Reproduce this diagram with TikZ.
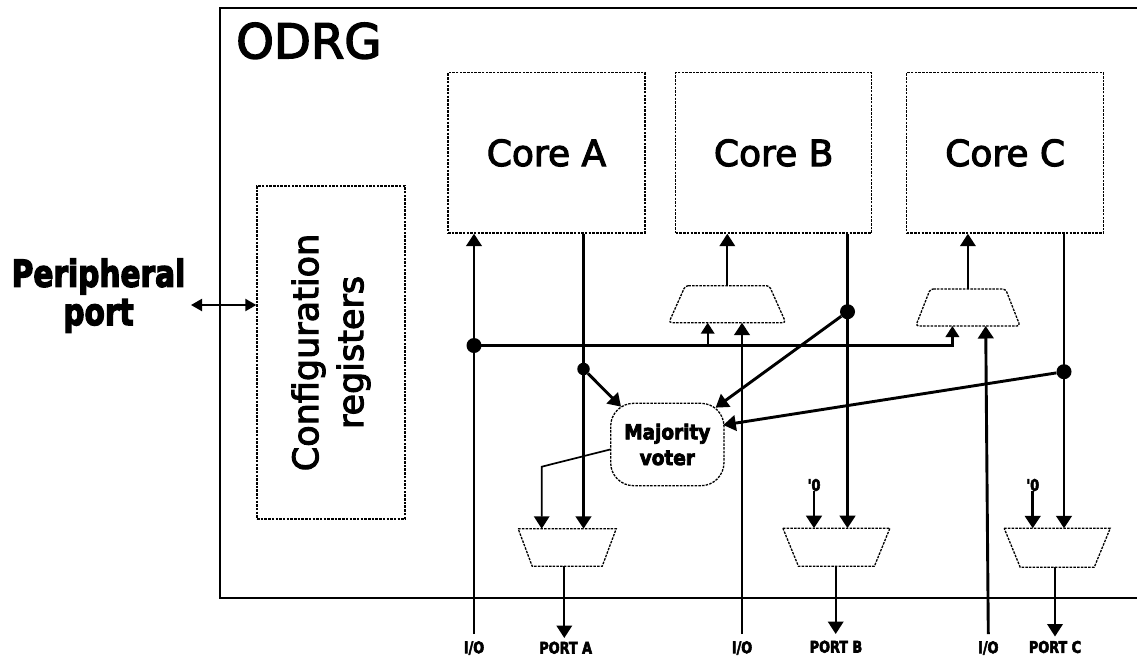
\documentclass[tikz,border=0pt]{standalone}
\usepackage{fontspec}
\usepackage{graphicx}
\setmainfont{DejaVu Sans}[BoldFeatures={FakeBold=4}]
\newfontfamily\labelfont{DejaVu Sans}[FakeBold=3]
\usetikzlibrary{arrows.meta}
\newcommand\pinText[1]{\scalebox{0.8}[1]{#1}}
\newcommand\wideText[1]{\scalebox{0.8}[1]{#1}}
\newcommand\voterText[1]{\scalebox{0.9}[1]{#1}}
\begin{document}
\begin{tikzpicture}[x=1pt,y=-1pt,
  frame/.style={line width=1.7pt},
  dline/.style={line width=1.3pt, dash pattern=on 2.5pt off 1.2pt},
  dbox/.style={draw, dline, inner sep=0pt},
  corebox/.style={dbox, minimum width=197pt, minimum height=160.3pt, font=\labelfont\fontsize{36}{43}\selectfont},
  muxbox/.style={inner sep=0pt, outer sep=0pt},
  wire/.style={line width=2.9pt},
  sig/.style={wire, -{Triangle[length=12.5pt,width=15.5pt]}},
  sigmid/.style={line width=2.2pt, -{Triangle[length=12.5pt,width=15.5pt]}},
  smallsig/.style={line width=2.2pt, -{Triangle[length=11pt,width=13.5pt]}},
  thinsig/.style={line width=1.7pt, -{Triangle[length=12.5pt,width=15.5pt]}},
  dblarrow/.style={line width=2pt, {Triangle[length=11pt,width=12pt]}-{Triangle[length=11pt,width=12pt]}},
  dot/.style={circle, fill, inner sep=0pt, minimum size=15pt},
  pinlabel/.style={font=\bfseries\fontsize{16}{16}\selectfont, inner sep=0pt}
]
\useasboundingbox (0,0) rectangle (1137,657);

% ODRG block, open towards the right border
\draw[frame] (1137,8.3) -- (220,8.3) -- (220,597.7) -- (1137,597.7);
\node[anchor=base west, inner sep=0pt, font=\labelfont\fontsize{48}{56}\selectfont] (odrg) at (236,58.3) {ODRG};

% configuration registers and peripheral port
\node[dbox, minimum width=148pt, minimum height=333pt] (cfg) at (331,352.5) {};
\node[rotate=90, align=center, font=\labelfont\fontsize{35}{45}\selectfont] (cfgtext) at (cfg.center) {Configuration\\registers};
\node[anchor=base, inner sep=0pt, font=\bfseries\fontsize{37}{37}\selectfont] (per1) at (98.5,286.7) {\wideText{Peripheral}};
\node[anchor=base, inner sep=0pt, font=\bfseries\fontsize{37}{37}\selectfont] (per2) at (98.5,325) {\wideText{port}};
\coordinate (pp) at (191,305);
\draw[dblarrow] (pp) -- (pp -| cfg.west);

% cores
\node[corebox] (coreA) at (546.5,152.9) {Core A};
\node[corebox, minimum width=196pt] (coreB) at (773.7,152.9) {Core B};
\node[corebox] (coreC) at (1005.2,152.9) {Core C};

% input multiplexers of cores B and C (narrow side up)
\node[muxbox, minimum width=117pt, minimum height=37pt] (muxB) at (727.3,304.2) {};
\node[muxbox, minimum width=104.3pt, minimum height=37pt] (muxC) at (967.9,307.5) {};
\draw[dline, rounded corners=3pt] ([xshift=16.5pt]muxB.north west) -- ([xshift=-16.5pt]muxB.north east)
  -- (muxB.south east) -- (muxB.south west) -- cycle;
\draw[dline, rounded corners=3pt] ([xshift=14.5pt]muxC.north west) -- ([xshift=-14.5pt]muxC.north east)
  -- (muxC.south east) -- (muxC.south west) -- cycle;

% output multiplexers (wide side up)
\node[muxbox, minimum width=98pt, minimum height=37.5pt] (muxA) at (567.2,547.5) {};
\node[muxbox, minimum width=107pt, minimum height=38pt] (muxBo) at (836.4,547.2) {};
\node[muxbox, minimum width=106pt, minimum height=39pt] (muxCo) at (1057.2,547.8) {};
\draw[dline] (muxA.north west) -- (muxA.north east) -- ([xshift=-14pt]muxA.south east)
  -- ([xshift=14pt]muxA.south west) -- cycle;
\draw[dline] (muxBo.north west) -- (muxBo.north east) -- ([xshift=-15.5pt]muxBo.south east)
  -- ([xshift=15.5pt]muxBo.south west) -- cycle;
\draw[dline] (muxCo.north west) -- (muxCo.north east) -- ([xshift=-16pt]muxCo.south east)
  -- ([xshift=16pt]muxCo.south west) -- cycle;

% majority voter
\node[dbox, rounded corners=23pt, minimum width=113.3pt, minimum height=82.4pt, align=center,
      font=\bfseries\fontsize{20.5}{25.7}\selectfont] (voter) at (667.3,444.5)
      {\voterText{Majority}\\\voterText{voter}};

% junctions
\node[dot] (jIO) at (474,345.5) {};
\node[dot, minimum size=12.5pt] (jA) at (583.5,369) {};
\node[dot] (jB) at (847.5,311.7) {};
\node[dot] (jC) at (1064,371.7) {};

\coordinate (ioA) at (474,634);
\coordinate (ioB) at (742,634);
\coordinate (ioC) at (988.3,634);
\coordinate (busB) at (707.7,345.5);
\coordinate (busC) at (952.4,345.5);
\coordinate (vbend) at (541.7,466.7);
\coordinate (pA) at (564.3,638);
\coordinate (pB) at (835.7,634);
\coordinate (pC) at (1055,636.5);

% I/O lines
\draw[sig] (ioA) -- (ioA |- coreA.south);
\draw[sig] (ioB) -- (ioB |- muxB.south);
\draw[sig] (ioC) -- ([xshift=-2.6pt]ioC |- muxC.south);

% configuration bus to the input multiplexers
\draw[smallsig] (jIO.center) -| (busC |- muxC.south);
\draw[smallsig] (busB) -- (busB |- muxB.south);

% multiplexers to cores
\draw[sigmid] (muxB.north) -- (muxB.north |- coreB.south);
\draw[sigmid] (muxC.north) -- (muxC.north |- coreC.south);

% core outputs
\draw[sig] (jA |- coreA.south) -- (jA |- muxA.north);
\draw[sig] (jB |- coreB.south) -- (jB |- muxBo.north);
\draw[sig] (jC |- coreC.south) -- (jC |- muxCo.north);

% voter inputs and output
\draw[sig] (jA) -- ([shift={(11,4)}]voter.north west);
\draw[sig] (jB) -- ([shift={(-9,5)}]voter.north east);
\draw[sig] (jC) -- ([shift={(-1.3,-19.5)}]voter.east);
\draw[thinsig] ([shift={(0,5)}]voter.west) -- (vbend) -- (vbend |- muxA.north);

% constant inputs
\node[pinlabel] (zB) at (814,485) {\pinText{\textquotesingle0}};
\node[pinlabel] (zC) at (1032.7,485) {\pinText{\textquotesingle0}};
\draw[sig] (zB.south) -- (zB.south |- muxBo.north);
\draw[sig] (zC.south) -- (zC.south |- muxCo.north);

% port outputs
\draw[sigmid] (pA |- muxA.south) -- (pA);
\draw[sigmid] (pB |- muxBo.south) -- (pB);
\draw[sigmid] (pC |- muxCo.south) -- (pC);

% pin labels
\node[pinlabel] (lioA) at (474,648) {\pinText{I/O}};
\node[pinlabel] (lioB) at (742,648) {\pinText{I/O}};
\node[pinlabel] (lioC) at (988.3,648) {\pinText{I/O}};
\node[pinlabel] (lpA) at (565.7,647.7) {\pinText{PORT A}};
\node[pinlabel] (lpB) at (836,646.7) {\pinText{PORT B}};
\node[pinlabel] (lpC) at (1055,647) {\pinText{PORT C}};
\end{tikzpicture}
\end{document}
